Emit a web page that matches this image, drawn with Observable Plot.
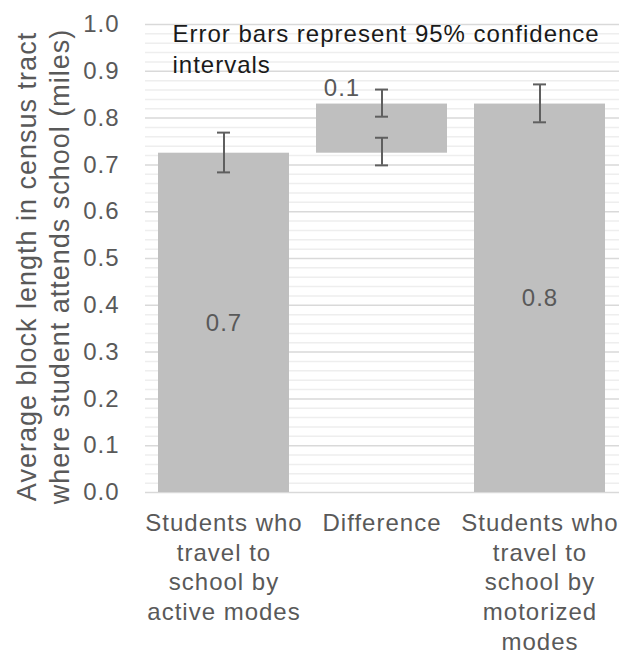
<!DOCTYPE html>
<html><head><meta charset="utf-8">
<script src="https://cdn.jsdelivr.net/npm/d3@7"></script>
<script src="https://cdn.jsdelivr.net/npm/@observablehq/plot@0.6"></script>
<style>
body{margin:0;background:#fff;}
#chart svg text{letter-spacing:1px;}
</style></head><body><div id="chart"></div>
<script>
// Categories and labels
const categories = ["active", "difference", "motorized"];
const categoryLabels = [
  "Students who\ntravel to\nschool by\nactive modes",
  "Difference",
  "Students who\ntravel to\nschool by\nmotorized\nmodes"
];
// Bar extents (waterfall style: difference floats between the two means)
const barBottoms = [0, 0.725, 0];
const barTops = [0.725, 0.83, 0.83];
// Error bars (95% CI)
const errCategories = ["active", "difference", "difference", "motorized"];
const errLow = [0.684, 0.803, 0.699, 0.791];
const errHigh = [0.769, 0.861, 0.758, 0.872];
// Axis ticks
const yTicks = [0, 0.1, 0.2, 0.3, 0.4, 0.5, 0.6, 0.7, 0.8, 0.9, 1.0];
const yTitleLines = ["Average block length in census tract", "where student attends school (miles)"];
const noteLines = ["Error bars represent 95% confidence", "intervals"];

const fmt = d3.format(".1f");
const bars = categories.map((c, i) => ({cat: c, lo: barBottoms[i], hi: barTops[i], val: barTops[i] - barBottoms[i]}));
const errs = errCategories.map((c, i) => ({cat: c, lo: errLow[i], hi: errHigh[i]}));
const minorTicks = d3.range(0, 51).map(i => i / 50).filter(v => Math.abs(v * 10 - Math.round(v * 10)) > 1e-6);
const mainBars = bars.filter(d => d.cat !== "difference");
const diffBar = bars.filter(d => d.cat === "difference");

const ink = "#595959";
const errInk = "#5f5f5f";

const chart = Plot.plot({
  width: 620,
  height: 654,
  marginLeft: 145,
  marginRight: 1,
  marginTop: 24,
  marginBottom: 162,
  style: {fontFamily: "'Liberation Sans', Arial, sans-serif", color: ink, background: "#fff", overflow: "visible"},
  x: {domain: categories, paddingInner: 0.17, paddingOuter: 0.085, label: null},
  y: {domain: [0, 1], label: null},
  marks: [
    Plot.ruleY(minorTicks, {stroke: "#eeeeee", strokeWidth: 1.5}),
    Plot.ruleY(yTicks, {stroke: "#d9d9d9", strokeWidth: 1.5}),
    Plot.barY(bars, {x: "cat", y1: "lo", y2: "hi", fill: "#bfbfbf"}),
    Plot.ruleX(errs, {x: "cat", y1: "lo", y2: "hi", stroke: errInk, strokeWidth: 2}),
    Plot.tickY(errs, {x: "cat", y: "lo", stroke: errInk, strokeWidth: 2, insetLeft: 59, insetRight: 59}),
    Plot.tickY(errs, {x: "cat", y: "hi", stroke: errInk, strokeWidth: 2, insetLeft: 59, insetRight: 59}),
    Plot.text(mainBars, {x: "cat", y: d => d.hi / 2, text: d => fmt(d.val), fill: ink, fontSize: 24}),
    Plot.text(diffBar, {x: "cat", y: "hi", text: d => fmt(d.val), fill: ink, fontSize: 24, lineAnchor: "bottom", dx: -40, dy: -8}),
    Plot.axisY({ticks: yTicks, tickFormat: fmt, tickSize: 0, tickPadding: 26, fontSize: 24, label: null}),
    Plot.axisX({tickSize: 0, tickPadding: 18, fontSize: 24, lineHeight: 1.23, label: null,
      tickFormat: d => categoryLabels[categories.indexOf(d)]}),
    Plot.text([yTitleLines.join("\n")], {frameAnchor: "left", textAnchor: "middle", lineAnchor: "middle", rotate: -90, dx: -104, dy: 8, fontSize: 27, lineHeight: 1.22, fill: ink}),
    Plot.text([noteLines.join("\n")], {frameAnchor: "top-left", textAnchor: "start", lineAnchor: "top", dx: 27, dy: -4, fontSize: 24, lineHeight: 1.28, fill: "#1a1a1a"})
  ]
});
document.getElementById("chart").appendChild(chart);
</script>
</body></html>
